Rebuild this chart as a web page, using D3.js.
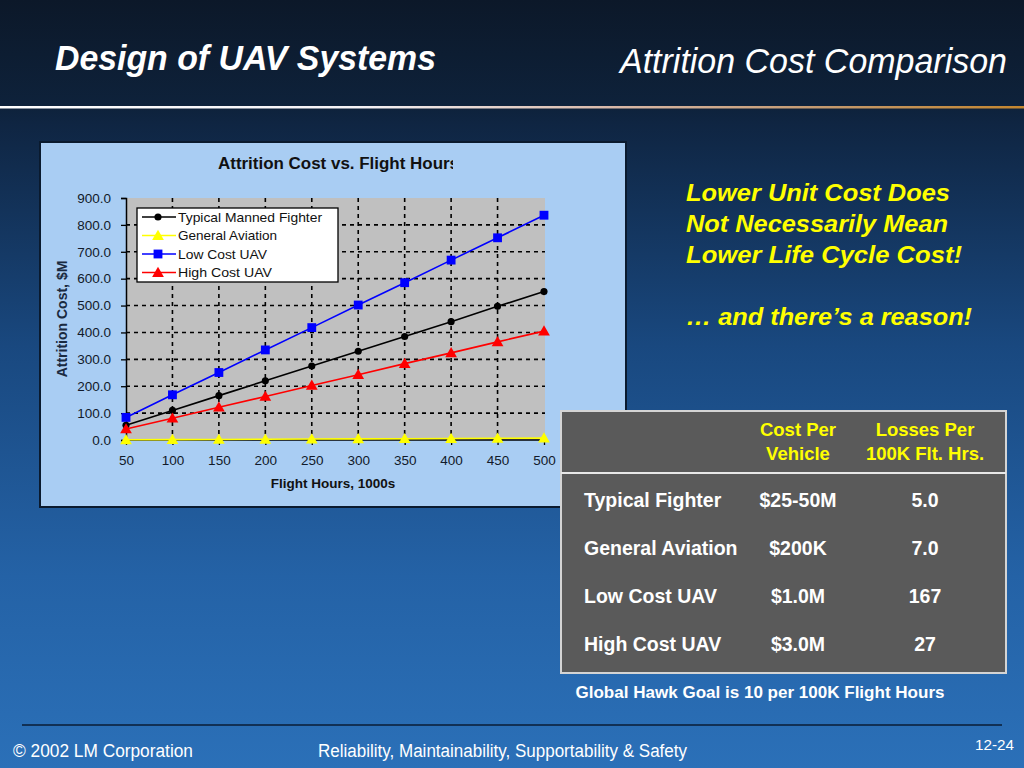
<!DOCTYPE html>
<html>
<head>
<meta charset="utf-8">
<script src="https://cdn.jsdelivr.net/npm/d3@7/dist/d3.min.js"></script>
<style>
html,body{margin:0;padding:0;background:#0d1b2e;}
svg{display:block;}
text{font-family:"Liberation Sans",Arial,Helvetica,sans-serif;}
</style>
</head>
<body>
<svg id="slide" width="1024" height="768"></svg>
<script>
// ---------- DATA ----------
const flightHours = [50, 100, 150, 200, 250, 300, 350, 400, 450, 500];
const typicalFighter = [55, 110, 165, 220, 275, 330, 385, 440, 497, 552];
const generalAviation = [0.7, 1.4, 2.1, 2.8, 3.5, 4.2, 4.9, 5.6, 6.3, 7.0];
const lowCostUAV = [84, 168, 251, 335, 418, 502, 585, 669, 752, 836];
const highCostUAV = [41, 81, 122, 162, 203, 243, 284, 324, 365, 405];
const seriesNames = ["Typical  Manned Fighter", "General Aviation", "Low Cost UAV", "High Cost UAV"];
const yTicks = [0, 100, 200, 300, 400, 500, 600, 700, 800, 900];

const tableHeader = [["Cost Per", "Vehicle"], ["Losses Per", "100K Flt. Hrs."]];
const tableRows = ["Typical Fighter", "General Aviation", "Low Cost UAV", "High Cost UAV"];
const costPerVehicle = ["$25-50M", "$200K", "$1.0M", "$3.0M"];
const lossesPer100K = ["5.0", "7.0", "167", "27"];

const calloutLines = ["Lower Unit Cost Does", "Not Necessarily Mean", "Lower Life Cycle Cost!", "\u2026 and there\u2019s a reason!"];

// ---------- SLIDE ----------
const svg = d3.select("#slide");
const defs = svg.append("defs");

const bg = defs.append("linearGradient").attr("id", "bg").attr("x1", 0).attr("y1", 0).attr("x2", 0).attr("y2", 1);
[[0, "#0c1829"], [0.14, "#0e223b"], [0.16, "#0f2542"], [0.45, "#19487f"], [0.75, "#2462a6"], [1, "#2b70b8"]]
  .forEach(s => bg.append("stop").attr("offset", s[0]).attr("stop-color", s[1]));
svg.append("rect").attr("width", 1024).attr("height", 768).attr("fill", "url(#bg)");

const hl = defs.append("linearGradient").attr("id", "hl").attr("x1", 0).attr("y1", 0).attr("x2", 1).attr("y2", 0);
[[0, "#ffffff"], [0.35, "#f4f2f6"], [0.6, "#d8b8a8"], [0.8, "#c49a70"], [1, "#c4862e"]]
  .forEach(s => hl.append("stop").attr("offset", s[0]).attr("stop-color", s[1]));
svg.append("rect").attr("x", 0).attr("y", 106).attr("width", 1024).attr("height", 2.5).attr("fill", "url(#hl)");

svg.append("text").attr("x", 55).attr("y", 70).attr("fill", "#fff")
  .attr("font-size", 35).attr("font-weight", "bold").attr("font-style", "italic")
  .attr("textLength", 381).attr("lengthAdjust", "spacingAndGlyphs")
  .text("Design of UAV Systems");
svg.append("text").attr("x", 620).attr("y", 73).attr("fill", "#fff")
  .attr("font-size", 35).attr("font-style", "italic")
  .attr("textLength", 387).attr("lengthAdjust", "spacingAndGlyphs")
  .text("Attrition Cost Comparison");

// ---------- CHART PANEL ----------
svg.append("rect").attr("x", 40).attr("y", 142).attr("width", 586).attr("height", 365)
  .attr("fill", "#a9cdf3").attr("stroke", "#0a1a2e").attr("stroke-width", 2);

const x = d3.scalePoint().domain(flightHours).range([126, 544]);
const y = d3.scaleLinear().domain([0, 900]).range([440, 198]);

const chart = svg.append("g");
chart.append("rect").attr("x", 126).attr("y", y(900)).attr("width", 545 - 126).attr("height", y(0) - y(900))
  .attr("fill", "#c0c0c0");

// grid
chart.append("g").selectAll("line").data(yTicks.filter(v => v > 0 && v < 900)).join("line")
  .attr("x1", 126).attr("x2", 545).attr("y1", d => y(d)).attr("y2", d => y(d))
  .attr("stroke", "#000").attr("stroke-width", 1.6).attr("stroke-dasharray", "4,4");
chart.append("g").selectAll("line").data(flightHours.slice(1, -1)).join("line")
  .attr("x1", d => x(d)).attr("x2", d => x(d)).attr("y1", y(900)).attr("y2", y(0))
  .attr("stroke", "#000").attr("stroke-width", 1.6).attr("stroke-dasharray", "4,4");

// axes
const yAxis = chart.append("g").attr("transform", "translate(126,0)")
  .call(d3.axisLeft(y).tickValues(yTicks).tickFormat(d3.format(".1f")).tickSize(5).tickPadding(10));
const xAxis = chart.append("g").attr("transform", `translate(0,${y(0)})`)
  .call(d3.axisBottom(x).tickSize(5).tickPadding(10));
[yAxis, xAxis].forEach(a => {
  a.select(".domain").attr("stroke", "#000").attr("stroke-width", 1.5);
  a.selectAll(".tick line").attr("stroke", "#000").attr("stroke-width", 1.3);
  a.selectAll(".tick text").attr("font-size", 13.5).attr("fill", "#111a2a")
    .attr("font-family", "'Liberation Sans',Arial,sans-serif");
});
xAxis.select(".domain").attr("d", "M126,0H545");

// title & axis titles
defs.append("clipPath").attr("id", "titleClip").append("rect").attr("x", 150).attr("y", 140).attr("width", 303).attr("height", 40);
chart.append("text").attr("x", 218).attr("y", 169).attr("clip-path", "url(#titleClip)")
  .attr("font-size", 16).attr("font-weight", "bold").attr("fill", "#111")
  .attr("textLength", 241).attr("lengthAdjust", "spacingAndGlyphs")
  .text("Attrition Cost vs. Flight Hours");
chart.append("text").attr("x", 333).attr("y", 488).attr("text-anchor", "middle")
  .attr("font-size", 13.5).attr("font-weight", "bold").attr("fill", "#111")
  .text("Flight Hours, 1000s");
chart.append("text").attr("transform", "translate(67,319) rotate(-90)").attr("text-anchor", "middle")
  .attr("font-size", 14).attr("font-weight", "bold").attr("fill", "#1a2a40")
  .text("Attrition Cost, $M");

// series
const series = [
  {name: seriesNames[0], values: typicalFighter, color: "#000000", marker: "circle"},
  {name: seriesNames[1], values: generalAviation, color: "#ffff00", marker: "triangle"},
  {name: seriesNames[2], values: lowCostUAV, color: "#0000ff", marker: "square"},
  {name: seriesNames[3], values: highCostUAV, color: "#ff0000", marker: "triangle"}
];
const symbolFor = m => m === "circle" ? d3.symbol(d3.symbolCircle, 40)
  : m === "square" ? d3.symbol(d3.symbolSquare, 78) : d3.symbol(d3.symbolTriangle, 60);

const line = d3.line().x(d => x(d[0])).y(d => y(d[1]));
series.forEach(s => {
  const pts = flightHours.map((h, i) => [h, s.values[i]]);
  const g = chart.append("g");
  g.append("path").attr("d", line(pts)).attr("fill", "none").attr("stroke", s.color).attr("stroke-width", 1.6);
  g.selectAll("path.m").data(pts).join("path").attr("class", "m")
    .attr("transform", d => `translate(${x(d[0])},${y(d[1]) + (s.marker === "triangle" ? 1 : 0)})`)
    .attr("d", symbolFor(s.marker)()).attr("fill", s.color);
});

// legend
const lg = chart.append("g");
lg.append("rect").attr("x", 137).attr("y", 208).attr("width", 201).attr("height", 74)
  .attr("fill", "#fff").attr("stroke", "#000").attr("stroke-width", 1.3);
const legendY = [217, 235.5, 254, 272.5];
const legendW = [144, 99, 89, 94];
series.forEach((s, i) => {
  const ly = legendY[i];
  lg.append("line").attr("x1", 142).attr("x2", 176).attr("y1", ly).attr("y2", ly)
    .attr("stroke", s.color).attr("stroke-width", 1.6);
  lg.append("path").attr("transform", `translate(158,${ly + (s.marker === "triangle" ? 1 : 0)})`)
    .attr("d", symbolFor(s.marker)()).attr("fill", s.color);
  lg.append("text").attr("x", 178).attr("y", ly + 4.5).attr("font-size", 13).attr("fill", "#111")
    .attr("textLength", legendW[i]).attr("lengthAdjust", "spacingAndGlyphs")
    .text(s.name);
});

// ---------- CALLOUT ----------
const calloutY = [201, 232, 263, 325];
const calloutW = [264, 262, 276, 286];
calloutLines.forEach((t, i) => {
  svg.append("text").attr("x", 686).attr("y", calloutY[i]).attr("fill", "#ffff00")
    .attr("font-size", 24).attr("font-weight", "bold").attr("font-style", "italic")
    .attr("textLength", calloutW[i]).attr("lengthAdjust", "spacingAndGlyphs")
    .text(t);
});

// ---------- TABLE ----------
const tb = svg.append("g");
tb.append("rect").attr("x", 561).attr("y", 411).attr("width", 445).attr("height", 262)
  .attr("fill", "#5a5a5a").attr("stroke", "#d4d4d4").attr("stroke-width", 2);
tb.append("line").attr("x1", 561).attr("x2", 1006).attr("y1", 473).attr("y2", 473)
  .attr("stroke", "#e8e8e8").attr("stroke-width", 2);
const colX = [798, 925];
tableHeader.forEach((lines, c) => {
  lines.forEach((t, j) => {
    tb.append("text").attr("x", colX[c]).attr("y", 436 + j * 24).attr("text-anchor", "middle")
      .attr("fill", "#ffff00").attr("font-size", 18.5).attr("font-weight", "bold").text(t);
  });
});
const rowY = [507, 555, 603, 651];
tableRows.forEach((r, i) => {
  tb.append("text").attr("x", 584).attr("y", rowY[i]).attr("fill", "#fff")
    .attr("font-size", 19.5).attr("font-weight", "bold").text(r);
  tb.append("text").attr("x", colX[0]).attr("y", rowY[i]).attr("text-anchor", "middle").attr("fill", "#fff")
    .attr("font-size", 19.5).attr("font-weight", "bold").text(costPerVehicle[i]);
  tb.append("text").attr("x", colX[1]).attr("y", rowY[i]).attr("text-anchor", "middle").attr("fill", "#fff")
    .attr("font-size", 19.5).attr("font-weight", "bold").text(lossesPer100K[i]);
});
svg.append("text").attr("x", 760).attr("y", 698).attr("text-anchor", "middle").attr("fill", "#fff")
  .attr("font-size", 16).attr("font-weight", "bold")
  .attr("textLength", 369).attr("lengthAdjust", "spacingAndGlyphs")
  .text("Global Hawk Goal is 10 per 100K Flight Hours");

// ---------- FOOTER ----------
svg.append("line").attr("x1", 22).attr("x2", 1002).attr("y1", 725).attr("y2", 725)
  .attr("stroke", "#0a1c36").attr("stroke-width", 1.5);
svg.append("text").attr("x", 13).attr("y", 757).attr("fill", "#fff").attr("font-size", 18)
  .attr("textLength", 180).attr("lengthAdjust", "spacingAndGlyphs").text("\u00a9 2002 LM Corporation");
svg.append("text").attr("x", 318).attr("y", 757).attr("fill", "#fff").attr("font-size", 18)
  .attr("textLength", 369).attr("lengthAdjust", "spacingAndGlyphs")
  .text("Reliability, Maintainability, Supportability & Safety");
svg.append("text").attr("x", 1014).attr("y", 750).attr("text-anchor", "end").attr("fill", "#fff").attr("font-size", 15)
  .attr("textLength", 39).attr("lengthAdjust", "spacingAndGlyphs")
  .text("12-24");
</script>
</body>
</html>
